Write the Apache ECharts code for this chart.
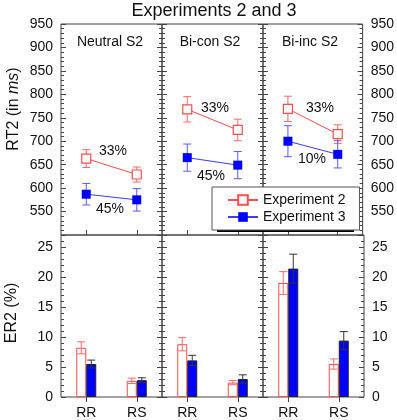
<!DOCTYPE html>
<html>
<head>
<meta charset="utf-8">
<script src="https://cdn.jsdelivr.net/npm/echarts@6/dist/echarts.min.js"></script>
<style>
  html, body { margin: 0; padding: 0; background: #fff; }
  #chart { width: 397px; height: 420px; }
</style>
</head>
<body>
<div id="chart"></div>
<script>
// 数据
var categories = ['RR', 'RS']
var panelNames = ['Neutral S2', 'Bi-con S2', 'Bi-inc S2']
var seriesNames = ['Experiment 2', 'Experiment 3']

// RT2 (ms), 每个面板 [RR, RS]
var rtExp2 = [[663, 629], [768, 724], [769, 715]]
var rtExp2Err = [[19, 16], [27, 23], [27, 20]]
var rtExp3 = [[587, 575], [665, 649], [700, 672]]
var rtExp3Err = [[23, 24], [29, 29], [33, 29]]

// ER2 (%)
var erExp2 = [[8.2, 2.7], [8.8, 2.4], [19.0, 5.5]]
var erExp2Err = [[1.0, 0.45], [1.1, 0.35], [1.9, 0.85]]
var erExp3 = [[5.5, 2.8], [6.1, 3.0], [21.4, 9.4]]
var erExp3Err = [[0.65, 0.4], [0.85, 0.7], [2.4, 1.5]]

// 百分比标注
var pctTop = ['33%', '33%', '33%']
var pctBottom = ['45%', '45%', '10%']

var rtTicks = { min: 500, max: 950, interval: 50 }
var erTicks = { min: 0, max: 27, interval: 5 }

var FONT = 'Liberation Sans, Arial, sans-serif'
var RED = '#ff4c4c'
var RED_LIGHT = '#ff6a6a'
var BLUE = '#0000ff'
var BLUE_LINE = '#3c3cff'
var BLUE_LIGHT = '#5a5aff'
var AXIS = '#444'
var BAR_W = 10

var chart = echarts.init(document.getElementById('chart'))

var panelLeft = [61, 162, 263]
var panelW = 101
var grids = []
panelLeft.forEach(function (l) {
  grids.push({ left: l, top: 24, width: panelW, height: 211, show: true, borderColor: AXIS, borderWidth: 1, backgroundColor: 'transparent' })
})
panelLeft.forEach(function (l) {
  grids.push({ left: l, top: 235, width: panelW, height: 163, show: true, borderColor: AXIS, borderWidth: 1, backgroundColor: 'transparent' })
})

var xAxes = []
var yAxes = []
for (var i = 0; i < 3; i++) {
  xAxes.push({
    type: 'category', gridIndex: i, data: categories, position: 'bottom',
    axisLine: { show: false },
    axisTick: { show: true, inside: true, length: 5, alignWithLabel: true, lineStyle: { color: AXIS } },
    axisLabel: { show: false }, splitLine: { show: false }
  })
}
for (i = 0; i < 3; i++) {
  xAxes.push({
    type: 'category', gridIndex: 3 + i, data: categories, position: 'bottom',
    axisLine: { show: false }, axisTick: { show: false },
    axisLabel: { show: true, margin: 9, color: '#111', fontSize: 14, fontFamily: FONT },
    splitLine: { show: false }
  })
}
for (i = 0; i < 3; i++) {
  xAxes.push({
    type: 'category', gridIndex: 3 + i, data: categories, position: 'top',
    axisLine: { show: false },
    axisTick: { show: true, inside: true, length: 5, alignWithLabel: true, lineStyle: { color: AXIS } },
    axisLabel: { show: false }, splitLine: { show: false }
  })
}

function makeY (gridIndex, pos, ticks, showLabel, hideMin) {
  return {
    type: 'value', gridIndex: gridIndex, position: pos,
    min: ticks.min, max: ticks.max, interval: ticks.interval,
    axisLine: { show: false },
    axisTick: { show: true, inside: true, length: 5, lineStyle: { color: AXIS } },
    minorTick: { show: true, splitNumber: 5, length: 3, lineStyle: { color: AXIS } },
    axisLabel: {
      show: showLabel, margin: 8, color: '#111', fontSize: 14, fontFamily: FONT,
      showMinLabel: !hideMin, showMaxLabel: ticks.max % ticks.interval === 0
    },
    splitLine: { show: false }
  }
}
for (i = 0; i < 3; i++) {
  yAxes.push(makeY(i, 'left', rtTicks, i === 0, true))
  yAxes.push(makeY(i, 'right', rtTicks, i === 2, true))
}
for (i = 0; i < 3; i++) {
  yAxes.push(makeY(3 + i, 'left', erTicks, i === 0, false))
  yAxes.push(makeY(3 + i, 'right', erTicks, i === 2, false))
}

function errRender (offset, color, cap) {
  return function (params, api) {
    var x = api.value(0)
    var top = api.coord([x, api.value(2)])
    var bot = api.coord([x, api.value(1)])
    var cx = top[0] + offset
    var st = { stroke: color, lineWidth: 1 }
    return {
      type: 'group',
      children: [
        { type: 'line', shape: { x1: cx, y1: top[1], x2: cx, y2: bot[1] }, style: st },
        { type: 'line', shape: { x1: cx - cap, y1: top[1], x2: cx + cap, y2: top[1] }, style: st },
        { type: 'line', shape: { x1: cx - cap, y1: bot[1], x2: cx + cap, y2: bot[1] }, style: st }
      ]
    }
  }
}

function errData (vals, errs) {
  return vals.map(function (v, k) { return [k, v - errs[k], v + errs[k]] })
}

var series = []
// 上面板: 折线
for (i = 0; i < 3; i++) {
  series.push({
    name: seriesNames[0], type: 'line', xAxisIndex: i, yAxisIndex: 2 * i,
    data: rtExp2[i], symbol: 'rect', symbolSize: 9, z: 3,
    lineStyle: { color: RED, width: 1 },
    itemStyle: { color: '#fff', borderColor: RED, borderWidth: 1.2 }
  })
  series.push({
    name: seriesNames[1], type: 'line', xAxisIndex: i, yAxisIndex: 2 * i,
    data: rtExp3[i], symbol: 'rect', symbolSize: 9, z: 3,
    lineStyle: { color: BLUE_LINE, width: 1 },
    itemStyle: { color: BLUE, borderColor: BLUE, borderWidth: 0 }
  })
  series.push({
    type: 'custom', xAxisIndex: i, yAxisIndex: 2 * i, z: 2,
    renderItem: errRender(0, RED_LIGHT, 4),
    data: errData(rtExp2[i], rtExp2Err[i]), encode: { x: 0, y: [1, 2] }
  })
  series.push({
    type: 'custom', xAxisIndex: i, yAxisIndex: 2 * i, z: 2,
    renderItem: errRender(0, BLUE_LIGHT, 4),
    data: errData(rtExp3[i], rtExp3Err[i]), encode: { x: 0, y: [1, 2] }
  })
}
// 下面板: 柱状图
for (i = 0; i < 3; i++) {
  series.push({
    name: seriesNames[0], type: 'bar', xAxisIndex: 3 + i, yAxisIndex: 6 + 2 * i,
    data: erExp2[i], barWidth: BAR_W, barGap: '0%',
    itemStyle: { color: '#fff', borderColor: RED, borderWidth: 1 }
  })
  series.push({
    name: seriesNames[1], type: 'bar', xAxisIndex: 3 + i, yAxisIndex: 6 + 2 * i,
    data: erExp3[i], barWidth: BAR_W, barGap: '0%',
    itemStyle: { color: BLUE, borderColor: '#222', borderWidth: 1 }
  })
  series.push({
    type: 'custom', xAxisIndex: 3 + i, yAxisIndex: 6 + 2 * i, z: 4,
    renderItem: errRender(-BAR_W / 2, RED_LIGHT, 4),
    data: errData(erExp2[i], erExp2Err[i]), encode: { x: 0, y: [1, 2] }
  })
  series.push({
    type: 'custom', xAxisIndex: 3 + i, yAxisIndex: 6 + 2 * i, z: 4,
    renderItem: errRender(BAR_W / 2, '#333', 4),
    data: errData(erExp3[i], erExp3Err[i]), encode: { x: 0, y: [1, 2] }
  })
}

var textStyle = { fill: '#111', fontSize: 14, fontFamily: FONT, textAlign: 'center', textVerticalAlign: 'middle' }
function txt (s, x, y, extra) {
  return { type: 'text', x: x, y: y, z: 10, style: Object.assign({ text: s }, textStyle, extra || {}) }
}
var graphics = []
var panelCenters = [110, 210, 310]
panelNames.forEach(function (n, k) { graphics.push(txt(n, panelCenters[k], 42)) })
var pctTopPos = [[113, 151], [215, 108], [320, 108]]
var pctBotPos = [[110, 209], [211, 176], [312, 159]]
pctTop.forEach(function (s, k) { graphics.push(txt(s, pctTopPos[k][0], pctTopPos[k][1])) })
pctBottom.forEach(function (s, k) { graphics.push(txt(s, pctBotPos[k][0], pctBotPos[k][1])) })
graphics.push(txt('Experiments 2 and 3', 214, 11, { fontSize: 18 }))
graphics.push({
  type: 'text', x: 14, y: 109, rotation: Math.PI / 2, z: 10,
  style: {
    text: 'RT2 (in {i|ms})', fill: '#111', fontSize: 16, fontFamily: FONT,
    textAlign: 'center', textVerticalAlign: 'middle',
    rich: { i: { fontStyle: 'italic', fontSize: 16, fontFamily: FONT, fill: '#111' } }
  }
})
graphics.push({
  type: 'text', x: 12, y: 313, rotation: Math.PI / 2, z: 10,
  style: { text: 'ER2 (%)', fill: '#111', fontSize: 16, fontFamily: FONT, textAlign: 'center', textVerticalAlign: 'middle' }
})
// 图例阴影
graphics.push({
  type: 'rect', z: 3, shape: { x: 217, y: 192, width: 137, height: 40 },
  style: { fill: '#000' }
})

chart.setOption({
  animation: false,
  backgroundColor: '#fff',
  grid: grids,
  xAxis: xAxes,
  yAxis: yAxes,
  legend: {
    data: seriesNames, orient: 'vertical', left: 212, top: 187, z: 5,
    padding: [6, 14, 6, 15], itemWidth: 30, itemHeight: 12, itemGap: 3,
    backgroundColor: '#fff', borderColor: '#555', borderWidth: 1,
    selectedMode: false,
    textStyle: { color: '#111', fontSize: 14, fontFamily: FONT, padding: [0, 0, 0, 0] }
  },
  graphic: graphics,
  series: series
})
</script>
</body>
</html>
